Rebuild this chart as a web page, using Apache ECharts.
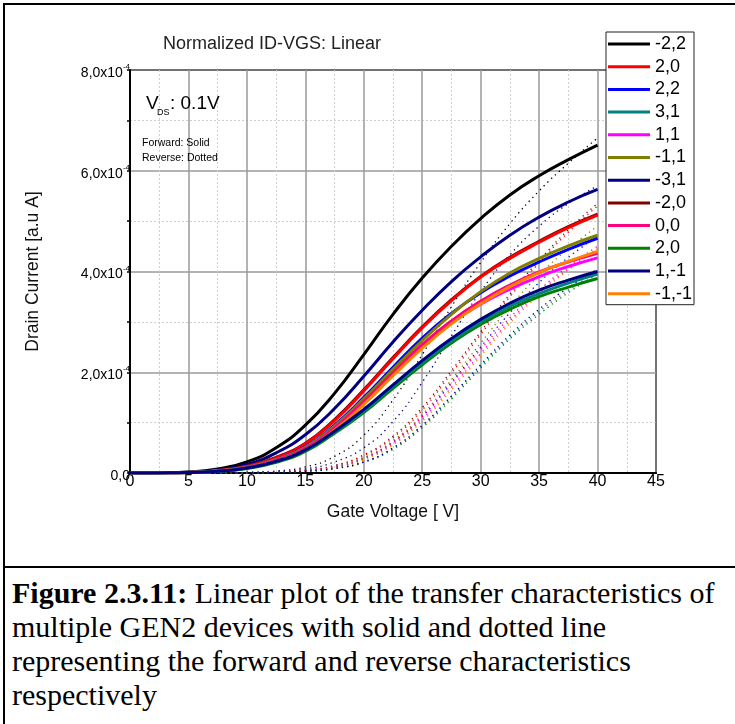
<!DOCTYPE html>
<html>
<head>
<meta charset="utf-8">
<script src="https://cdn.jsdelivr.net/npm/echarts@6/dist/echarts.min.js"></script>
<style>
html,body{margin:0;padding:0;background:#fff;width:735px;height:724px;overflow:hidden;}
#frame{position:absolute;left:3px;top:3px;width:740px;height:740px;border:2px solid #000;box-sizing:border-box;}
#divider{position:absolute;left:3px;top:566px;width:740px;height:2px;background:#000;}
#chart{position:absolute;left:0;top:0;width:735px;height:566px;}
#caption{position:absolute;left:12px;top:576px;font-family:"Liberation Serif","Times New Roman",serif;font-size:30px;line-height:34px;color:#000;white-space:nowrap;}
</style>
</head>
<body>
<div id="frame"></div>
<div id="divider"></div>
<div id="chart"></div>
<div id="caption"><b>Figure 2.3.11:</b> Linear plot of the transfer characteristics of<br>multiple GEN2 devices with solid and dotted line<br>representing the forward and reverse characteristics<br>respectively</div>
<script>
// Gate voltage points [V]
const gateVoltage = [0,2.5,5,7.5,10,12.5,15,17.5,20,22.5,25,27.5,30,32.5,35,37.5,40];
// Device labels (legend) and colours
const deviceLabels = ['-2,2','2,0','2,2','3,1','1,1','-1,1','-3,1','-2,0','0,0','2,0','1,-1','-1,-1'];
const deviceColors = ['#000000','#ff0000','#0000ff','#008080','#ff00ff','#808000','#000080','#800000','#ff0080','#008000','#000080','#ff8000'];
// Tick labels
const xTicks = [0,5,10,15,20,25,30,35,40,45];
const yTicks = [0,2,4,6,8]; // in units of 1e-4

// Drain current, units of 1e-4 a.u. A — forward sweeps (solid)
const fwd_m2_2  = [0,0.005,0.02,0.08,0.22,0.5,0.95,1.58,2.35,3.15,3.87,4.5,5.05,5.52,5.9,6.22,6.51];
const fwd_2_0a  = [0,0.003,0.012,0.045,0.13,0.3,0.58,1.04,1.63,2.27,2.88,3.42,3.89,4.26,4.58,4.87,5.12];
const fwd_2_2   = [0,0.003,0.011,0.04,0.12,0.27,0.52,0.95,1.5,2.1,2.68,3.17,3.58,3.91,4.19,4.44,4.66];
const fwd_3_1   = [0,0.002,0.008,0.035,0.1,0.23,0.45,0.81,1.23,1.72,2.19,2.62,3.0,3.31,3.56,3.77,3.95];
const fwd_1_1   = [0,0.003,0.01,0.04,0.11,0.25,0.49,0.89,1.41,1.98,2.52,2.98,3.35,3.65,3.9,4.1,4.27];
const fwd_m1_1  = [0,0.003,0.011,0.04,0.12,0.27,0.51,0.93,1.47,2.06,2.63,3.15,3.6,3.97,4.26,4.51,4.72];
const fwd_m3_1  = [0,0.004,0.015,0.06,0.17,0.4,0.76,1.28,1.92,2.6,3.23,3.8,4.29,4.72,5.08,5.38,5.63];
const fwd_m2_0  = [0,0.003,0.012,0.047,0.135,0.31,0.59,1.06,1.65,2.29,2.9,3.44,3.9,4.28,4.6,4.89,5.14];
const fwd_0_0   = [0,0.003,0.01,0.04,0.11,0.25,0.49,0.89,1.42,1.99,2.55,3.02,3.41,3.73,3.99,4.19,4.36];
const fwd_2_0b  = [0,0.002,0.008,0.033,0.09,0.21,0.43,0.79,1.2,1.68,2.15,2.58,2.95,3.25,3.5,3.69,3.86];
const fwd_1_m1  = [0,0.002,0.008,0.035,0.1,0.23,0.46,0.83,1.26,1.75,2.23,2.67,3.05,3.37,3.63,3.83,4.0];
const fwd_m1_m1 = [0,0.003,0.01,0.04,0.1,0.23,0.46,0.85,1.36,1.93,2.48,2.96,3.36,3.7,3.98,4.2,4.4];

// Reverse sweeps (dotted)
const rev_m2_2  = [0,0,0,0.004,0.012,0.04,0.12,0.33,0.75,1.45,2.35,3.3,4.18,4.95,5.6,6.15,6.65];
const rev_2_0a  = [0,0,0,0,0.006,0.02,0.055,0.14,0.34,0.7,1.25,1.98,2.75,3.5,4.17,4.78,5.3];
const rev_2_2   = [0,0,0,0,0.005,0.018,0.05,0.12,0.3,0.62,1.12,1.8,2.5,3.18,3.78,4.28,4.7];
const rev_3_1   = [0,0,0,0,0.004,0.013,0.035,0.09,0.22,0.49,0.93,1.51,2.12,2.7,3.2,3.63,4.0];
const rev_1_1   = [0,0,0,0,0.005,0.016,0.045,0.11,0.27,0.58,1.07,1.7,2.37,3.02,3.58,4.05,4.45];
const rev_m1_1  = [0,0,0,0,0.005,0.018,0.05,0.12,0.3,0.64,1.16,1.85,2.58,3.3,3.93,4.45,4.9];
const rev_m3_1  = [0,0,0,0.003,0.01,0.03,0.08,0.22,0.5,1.02,1.8,2.72,3.6,4.33,4.9,5.35,5.7];
const rev_m2_0  = [0,0,0,0,0.006,0.02,0.057,0.15,0.36,0.73,1.3,2.03,2.8,3.55,4.22,4.83,5.35];
const rev_0_0   = [0,0,0,0,0.005,0.016,0.045,0.11,0.28,0.61,1.12,1.77,2.45,3.08,3.63,4.1,4.5];
const rev_2_0b  = [0,0,0,0,0.004,0.012,0.032,0.085,0.21,0.47,0.9,1.47,2.08,2.66,3.15,3.58,3.95];
const rev_1_m1  = [0,0,0,0,0.004,0.013,0.035,0.09,0.22,0.5,0.95,1.53,2.15,2.74,3.25,3.68,4.05];
const rev_m1_m1 = [0,0,0,0,0.005,0.015,0.042,0.1,0.26,0.56,1.03,1.65,2.32,2.97,3.54,4.03,4.45];

const forward = [fwd_m2_2,fwd_2_0a,fwd_2_2,fwd_3_1,fwd_1_1,fwd_m1_1,fwd_m3_1,fwd_m2_0,fwd_0_0,fwd_2_0b,fwd_1_m1,fwd_m1_m1];
const reverse = [rev_m2_2,rev_2_0a,rev_2_2,rev_3_1,rev_1_1,rev_m1_1,rev_m3_1,rev_m2_0,rev_0_0,rev_2_0b,rev_1_m1,rev_m1_m1];
// drawing order (last on top)
const drawOrder = [0,6,7,1,2,5,4,8,11,9,3,10];

const FONT = '"Liberation Sans", Arial, sans-serif';
const pairs = arr => gateVoltage.map((v,i) => [v, arr[i]]);

const series = [];
drawOrder.forEach(i => {
  series.push({
    name: 'rev' + i, type: 'line', data: pairs(reverse[i]), smooth: 0.5, showSymbol: false,
    silent: true, z: 2,
    lineStyle: {color: deviceColors[i], width: 1.3, type: [1.3, 4]},
    itemStyle: {color: deviceColors[i]}
  });
});
drawOrder.forEach(i => {
  series.push({
    name: 'fwd' + i, type: 'line', data: pairs(forward[i]), smooth: 0.5, showSymbol: false,
    z: 3,
    lineStyle: {color: deviceColors[i], width: 3},
    itemStyle: {color: deviceColors[i]}
  });
});

const gridLine = {show: true, lineStyle: {color: '#9a9a9a', width: 1.5}};
const minorGridLine = {show: true, lineStyle: {color: '#cfcfcf', width: 1, type: [2, 2]}};

const chart = echarts.init(document.getElementById('chart'), null, {renderer: 'canvas'});
chart.setOption({
  animation: false,
  backgroundColor: 'transparent',
  textStyle: {fontFamily: FONT},
  title: {
    text: 'Normalized ID-VGS: Linear', left: 158, top: 30,
    textStyle: {fontFamily: FONT, fontSize: 18, fontWeight: 'normal', color: '#222'}
  },
  grid: {left: 130, top: 70, width: 526, height: 403, show: true, borderColor: '#000', borderWidth: 2, backgroundColor: 'transparent'},
  legend: {
    orient: 'vertical', left: 606, top: 32,
    data: deviceLabels.map((l,i) => 'fwd' + i),
    formatter: name => deviceLabels[+name.slice(3)],
    icon: 'rect', itemWidth: 42, itemHeight: 3, itemGap: 4.7,
    padding: [3, 2, 2, 2],
    backgroundColor: '#fff', borderColor: '#222', borderWidth: 1,
    textStyle: {fontFamily: FONT, fontSize: 18, lineHeight: 18, color: '#000'},
    selectedMode: false, z: 10
  },
  xAxis: {
    type: 'value', min: 0, max: 45, interval: 5,
    name: 'Gate Voltage [ V]', nameLocation: 'middle', nameGap: 30,
    nameTextStyle: {fontFamily: FONT, fontSize: 17.5, color: '#111'},
    axisLine: {show: true, onZero: false, lineStyle: {color: '#000', width: 2}},
    axisTick: {show: false},
    axisLabel: {fontFamily: FONT, fontSize: 16, color: '#000', margin: 1,
      formatter: v => xTicks.includes(v) ? String(v) : ''},
    splitLine: gridLine,
    minorTick: {show: false, splitNumber: 2},
    minorSplitLine: minorGridLine
  },
  yAxis: [{
    type: 'value', min: 0, max: 8, interval: 2,
    name: 'Drain Current [a.u A]', nameLocation: 'middle', nameGap: 88, nameRotate: 90,
    nameTextStyle: {fontFamily: FONT, fontSize: 17.5, color: '#111'},
    axisLine: {show: true, onZero: false, lineStyle: {color: '#000', width: 2}},
    axisTick: {show: false},
    axisLabel: {
      margin: 0,
      formatter: v => {
        if (!yTicks.includes(v)) return '';
        if (v === 0) return '{a|0,0}';
        return '{a|' + v.toFixed(1).replace('.', ',') + 'x10}{s|-4}';
      },
      rich: {
        a: {fontFamily: FONT, fontSize: 14, color: '#000', padding: [6, 0, 0, 0]},
        s: {fontFamily: FONT, fontSize: 8, color: '#000', padding: [0, 0, 6, 0]}
      }
    },
    splitLine: gridLine,
    minorTick: {show: false, splitNumber: 2},
    minorSplitLine: minorGridLine
  }, {
    type: 'value', min: 0, max: 8, interval: 2, position: 'right',
    axisLine: {show: false},
    axisTick: {show: true, inside: true, length: 3, lineStyle: {color: '#000', width: 1.5}},
    minorTick: {show: true, splitNumber: 2, length: 3, lineStyle: {color: '#000', width: 1.5}},
    axisLabel: {show: false},
    splitLine: {show: false}
  }],
  graphic: [
    {type: 'text', left: 146, top: 94, z: 20, style: {text: 'V', font: '19px ' + FONT, fill: '#000'}},
    {type: 'text', left: 157, top: 108, z: 20, style: {text: 'DS', font: '9px ' + FONT, fill: '#000'}},
    {type: 'text', left: 170, top: 94, z: 20, style: {text: ': 0.1V', font: '19px ' + FONT, fill: '#000'}},
    {type: 'text', left: 142, top: 138, z: 20, style: {text: 'Forward: Solid', font: '10.5px ' + FONT, fill: '#000'}},
    {type: 'text', left: 142, top: 153, z: 20, style: {text: 'Reverse: Dotted', font: '10.5px ' + FONT, fill: '#000'}}
  ],
  series: series
});
</script>
</body>
</html>
